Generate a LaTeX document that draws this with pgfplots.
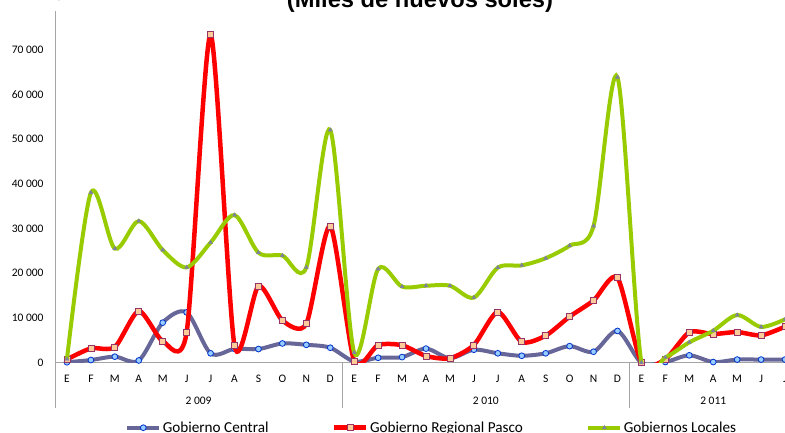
\documentclass[border=0pt]{standalone}
\usepackage{pgfplots}
\usepackage{pgfplotstable}
\pgfplotsset{compat=1.18}
\usepackage{fontspec}
\setmainfont{Carlito}
\newfontfamily\titlefont{Liberation Sans}

\definecolor{central}{RGB}{102,102,153}
\definecolor{centralmk}{RGB}{153,204,255}
\definecolor{centraledge}{RGB}{0,51,204}
\definecolor{regional}{RGB}{255,0,0}
\definecolor{regionalmk}{RGB}{255,204,153}
\definecolor{regionaledge}{RGB}{153,51,102}
\definecolor{locales}{RGB}{153,204,0}
\definecolor{localesmk}{RGB}{128,128,160}
\definecolor{axisgray}{RGB}{165,165,165}

% ene 2009 .. jul 2011, miles de nuevos soles
\pgfplotstableread{
x  central regional locales
0  100   750    800
1  600   3200   38000
2  1350  3500   25500
3  500   11550  31650
4  8950  4850   25200
5  11250 6800   21300
6  2100  73300  26850
7  3100  3800   33000
8  3050  17150  24600
9  4300  9450   23950
10 4000  8700   21300
11 3350  30550  52000
12 300   400    2250
13 1100  3950   20950
14 1250  3900   17000
15 3150  1500   17200
16 1000  1000   17200
17 2900  3950   14550
18 2100  11350  21250
19 1550  4650   21750
20 2100  6050   23350
21 3700  10300  26150
22 2450  13900  30550
23 7100  19000  63800
24 0     0      0
25 150   800    1200
26 1650  6800   4550
27 150   6400   7150
28 700   6850   10650
29 700   6100   8000
30 700   8050   9700
}\datos

\begin{document}
\begin{tikzpicture}
\begin{axis}[
  scale only axis,
  width=742pt, height=351.7pt,
  xmin=-0.5, xmax=30.5,
  ymin=0, ymax=78600,
  axis x line=bottom, axis y line=left,
  axis line style={-, draw=axisgray, line width=0.8pt},
  major tick length=0pt,
  xtick={0,...,30},
  xticklabels={E,F,M,A,M,J,J,A,S,O,N,D,E,F,M,A,M,J,J,A,S,O,N,D,E,F,M,A,M,J,J},
  xticklabel style={font=\fontsize{11.5}{13}\selectfont, anchor=base, inner sep=0pt, yshift=-19.3pt},
  ytick={0,10000,20000,30000,40000,50000,60000,70000},
  yticklabels={0,10 000,20 000,30 000,40 000,50 000,60 000,70 000},
  yticklabel style={font=\fontsize{11.5}{13}\selectfont, anchor=east, inner sep=0pt, xshift=-11.3pt},
  clip mode=individual,
  legend columns=3,
  legend style={draw=none, fill=none, at={(0.5074,-0.1848)}, anchor=center,
    font=\fontsize{15.2}{17}\selectfont, inner sep=0pt,
    nodes={inner sep=1.5pt},
    /tikz/every even column/.append style={column sep=62pt}},
  legend image code/.code={\draw[mark repeat=2,mark phase=2,#1] plot coordinates {(0pt,0pt) (16pt,0pt) (32pt,0pt)};},
]
\addplot[smooth, central, line width=4pt, mark=*, mark size=2.9pt,
  mark options={fill=centralmk, draw=centraledge, line width=0.8pt}]
  table[x=x, y=central] {\datos};
\addplot[smooth, tension=0.42, regional, line width=4.5pt, mark=square*, mark size=3pt,
  mark options={fill=regionalmk, draw=regionaledge, line width=0.8pt}]
  table[x=x, y=regional] {\datos};
\addplot[smooth, locales, line width=4pt, mark=triangle*, mark size=2.3pt,
  mark options={fill=localesmk, draw=localesmk, line width=0.4pt}]
  table[x=x, y=locales] {\datos};
\legend{Gobierno Central, Gobierno Regional Pasco, Gobiernos Locales}

\coordinate (O) at (axis cs:-0.5,0);
\coordinate (s1) at (axis cs:11.5,0);
\coordinate (s2) at (axis cs:23.5,0);
\coordinate (y1) at (axis cs:5.5,0);
\coordinate (y2) at (axis cs:17.5,0);
\coordinate (y3) at (axis cs:27,0);
\end{axis}

\draw[axisgray, line width=0.8pt] (O) -- ++(0,-45.3pt);
\draw[axisgray, line width=0.8pt] (s1) -- ++(0,-45.3pt);
\draw[axisgray, line width=0.8pt] (s2) -- ++(0,-45.3pt);
\node[font=\fontsize{11.5}{13}\selectfont, anchor=base, inner sep=0pt] at ([yshift=-42pt]y1) {2 009};
\node[font=\fontsize{11.5}{13}\selectfont, anchor=base, inner sep=0pt] at ([yshift=-42pt]y2) {2 010};
\node[font=\fontsize{11.5}{13}\selectfont, anchor=base, inner sep=0pt] at ([yshift=-42pt]y3) {2 011};
\node[font=\titlefont\bfseries\fontsize{23.7}{28}\selectfont, anchor=base, inner sep=0pt]
  at ([shift={(365pt,355.2pt)}]O) {(Miles de nuevos soles)};

\pgfresetboundingbox
\path[use as bounding box] ([shift={(-55pt,-69.3pt)}]O) rectangle ([shift={(730pt,362.7pt)}]O);
\end{tikzpicture}
\end{document}
